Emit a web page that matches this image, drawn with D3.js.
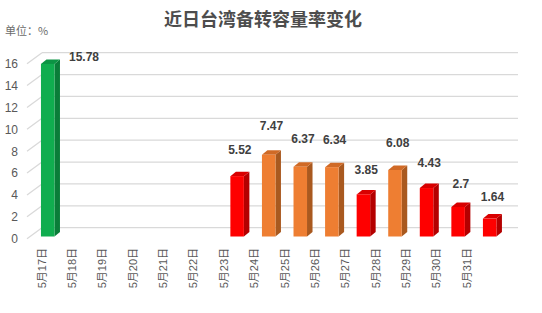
<!DOCTYPE html>
<html><head><meta charset="utf-8">
<script src="https://cdn.jsdelivr.net/npm/d3@7"></script>
<style>
html,body{margin:0;padding:0;background:#fff;}
svg{display:block;}
</style>
</head><body>
<svg id="c" width="542" height="313"></svg>
<script>
const categories = ["5月17日","5月18日","5月19日","5月20日","5月21日","5月22日","5月23日","5月24日","5月25日","5月26日","5月27日","5月28日","5月29日","5月30日","5月31日"];
const values = [15.78,null,null,null,null,null,5.52,7.47,6.37,6.34,3.85,6.08,4.43,2.7,1.64];
const colorKeys = ["g","","","","","","r","o","o","o","r","o","r","r","r"];
const yTicks = [0,2,4,6,8,10,12,14,16];
const title = "近日台湾备转容量率变化";
const unitLabel = "单位：%";

const palette = {
  g:{front:"#10ad4f", side:"#0a7d39", top:"#0c9444"},
  r:{front:"#fe0000", side:"#b40000", top:"#d80000"},
  o:{front:"#ee7e32", side:"#a9591f", top:"#d06a26"}
};

const svg = d3.select("#c");
const font = "'Liberation Sans','Noto Sans CJK SC',Arial,sans-serif";

// depth geometry
const wallDx = 15, wallDy = 11;   // back wall vs front axis plane
const barDx = 5.5, barDy = 4.5;   // bar depth

const yBack = d3.scaleLinear().domain([0,16]).range([227.7, 52.7]);
const yBar = d3.scaleLinear().domain([0,16]).range([236.5, 61.5]);
const yLab = d3.scaleLinear().domain([0,16]).range([221, 25.8]);

const xBar = d3.scaleBand().domain(categories).range([22.9, 514.5]).padding(0.572);
const xLab = d3.scalePoint().domain(categories).range([41.7, 466.7]);

const gridX0 = 42, gridX1 = 518;

// title
svg.append("text").attr("x",263).attr("y",26).attr("text-anchor","middle")
  .attr("font-family","'Noto Sans CJK SC',sans-serif").attr("font-weight","bold")
  .attr("font-size",18).attr("fill","#4d4d4d").text(title);
svg.append("text").attr("x",5).attr("y",35)
  .attr("font-family","'Noto Sans CJK SC',sans-serif")
  .attr("font-size",11).attr("fill","#6b6b6b").text(unitLabel);

// gridlines + wall diagonals
const grid = svg.append("g");
yTicks.forEach(t=>{
  const yb = yBack(t);
  grid.append("line").attr("x1",gridX0).attr("x2",gridX1).attr("y1",yb).attr("y2",yb)
    .attr("stroke","#d9d9d9").attr("stroke-width",1.3);
  grid.append("line").attr("x1",gridX0-wallDx).attr("y1",yb+wallDy).attr("x2",gridX0).attr("y2",yb)
    .attr("stroke","#d9d9d9").attr("stroke-width",1.3);
});

// y axis labels
const yAxis = d3.axisLeft(d3.scaleLinear().domain([0,16]).range([yBack(0)+wallDy, yBack(16)+wallDy]))
  .tickValues(yTicks).tickSize(0).tickPadding(0);
const ya = svg.append("g").attr("transform","translate(18,0)").call(yAxis);
ya.select(".domain").remove();
ya.selectAll("text").attr("font-family",font).attr("font-size",12).attr("fill","#595959");

// bars
const bars = svg.append("g");
const w = xBar.bandwidth();
categories.forEach((c,i)=>{
  const v = values[i];
  if (v == null) return;
  const col = palette[colorKeys[i]];
  const x = xBar(c), yt = yBar(v), yb = yBar(0);
  // side
  bars.append("path").attr("d",`M${x+w},${yt}L${x+w+barDx},${yt-barDy}L${x+w+barDx},${yb-barDy}L${x+w},${yb}Z`).attr("fill",col.side);
  // top
  bars.append("path").attr("d",`M${x},${yt}L${x+barDx},${yt-barDy}L${x+w+barDx},${yt-barDy}L${x+w},${yt}Z`).attr("fill",col.top);
  // front
  bars.append("rect").attr("x",x).attr("y",yt).attr("width",w).attr("height",yb-yt).attr("fill",col.front);
});

// value labels
const labs = svg.append("g");
categories.forEach((c,i)=>{
  const v = values[i];
  if (v == null) return;
  const x = xBar(c);
  let t;
  if (yLab(v) < 45) {
    t = labs.append("text").attr("x", x + w + barDx + 9).attr("y", yBar(v) - 3).attr("text-anchor","start");
  } else {
    t = labs.append("text").attr("x", x + (w + barDx)/2).attr("y", yLab(v)).attr("text-anchor","middle");
  }
  t.attr("font-family",font).attr("font-size",12).attr("font-weight","bold").attr("fill","#404040").text(v);
});

// x labels
const xl = svg.append("g");
categories.forEach(c=>{
  xl.append("text").attr("transform",`translate(${xLab(c)+4},248) rotate(-90)`)
    .attr("text-anchor","end").attr("font-family",font).attr("font-size",11)
    .attr("fill","#595959").text(c);
});
</script>
</body></html>
